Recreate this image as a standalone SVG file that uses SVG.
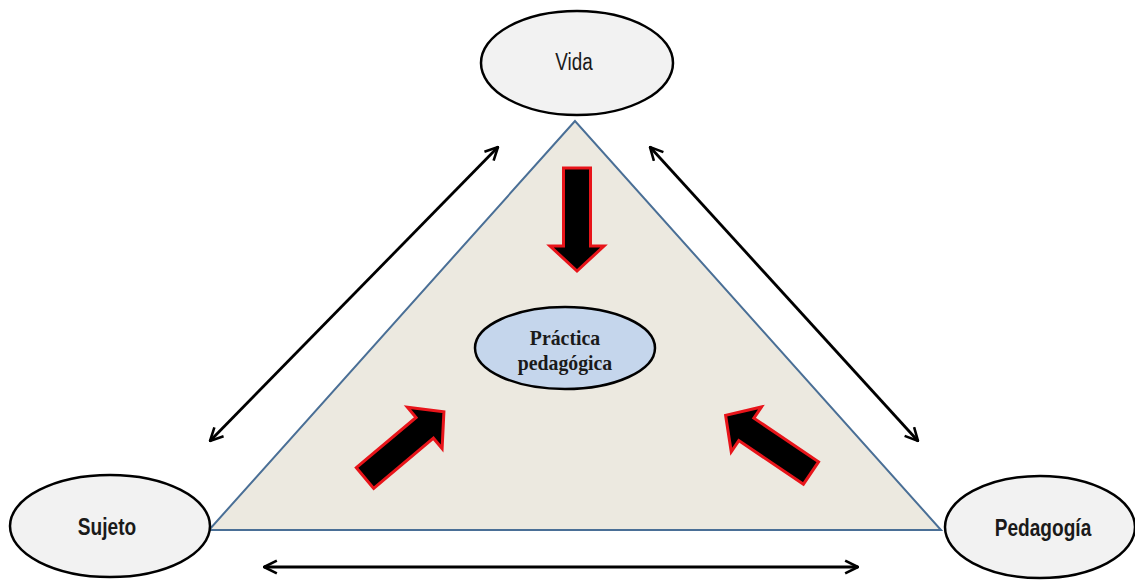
<svg xmlns="http://www.w3.org/2000/svg" width="1135" height="580" viewBox="0 0 1135 580">
<style>
.node{fill:#f2f2f2;stroke:#000;stroke-width:2.5}
.lbl{font-family:"Liberation Sans",Arial,sans-serif;font-size:23px;fill:#1a1a1a;text-anchor:middle}
.b{font-weight:bold}
.ser{font-family:"Liberation Serif","Times New Roman",serif;font-weight:bold;font-size:22px;fill:#1a1a1a;text-anchor:middle}
.conn{stroke:#000;stroke-width:2.8;fill:none;marker-start:url(#ah);marker-end:url(#ah)}
.blk{fill:#000;stroke:#e8141a;stroke-width:3;stroke-linejoin:miter}
</style>
<defs>
<marker id="ah" viewBox="0 0 12 12" refX="11" refY="6" markerWidth="5.5" markerHeight="5.5" orient="auto-start-reverse" markerUnits="strokeWidth">
<path d="M1,1 L11,6 L1,11" fill="none" stroke="#000" stroke-width="2"/>
</marker>
<path id="blockArrow" d="M0,-13.5 L78,-13.5 L78,-27 L103,0 L78,27 L78,13.5 L0,13.5 Z"/>
</defs>
<rect width="1135" height="580" fill="#fff"/>
<g id="triangle">
<polygon points="575,121 209,530 941,530" fill="#ece9e0" stroke="#4a6f96" stroke-width="2"/>
</g>
<g id="connectors">
<line class="conn" x1="210" y1="441" x2="498" y2="147"/>
<line class="conn" x1="650" y1="147" x2="918" y2="441"/>
<line class="conn" x1="264" y1="567" x2="858" y2="567"/>
</g>
<g id="block-arrows">
<use href="#blockArrow" class="blk" transform="translate(577,168) rotate(90)"/>
<use href="#blockArrow" class="blk" transform="translate(365,478) rotate(-40)"/>
<use href="#blockArrow" class="blk" transform="translate(811,473) rotate(-146)"/>
</g>
<g id="vida">
<ellipse class="node" cx="577" cy="63" rx="96" ry="52"/>
<text class="lbl" transform="translate(574,70) scale(0.82,1)">Vida</text>
</g>
<g id="sujeto">
<ellipse class="node" cx="110" cy="526" rx="100" ry="51"/>
<text class="lbl b" transform="translate(107,535) scale(0.83,1)">Sujeto</text>
</g>
<g id="pedagogia">
<ellipse class="node" cx="1040" cy="527" rx="95" ry="51"/>
<text class="lbl b" transform="translate(1043,536) scale(0.83,1)">Pedagogía</text>
</g>
<g id="practica">
<ellipse cx="565" cy="348" rx="90" ry="41" fill="#c5d6ec" stroke="#000" stroke-width="2.5"/>
<text class="ser" transform="translate(565,345) scale(0.9,1)">Práctica</text>
<text class="ser" transform="translate(565,370) scale(0.9,1)">pedagógica</text>
</g>
</svg>
